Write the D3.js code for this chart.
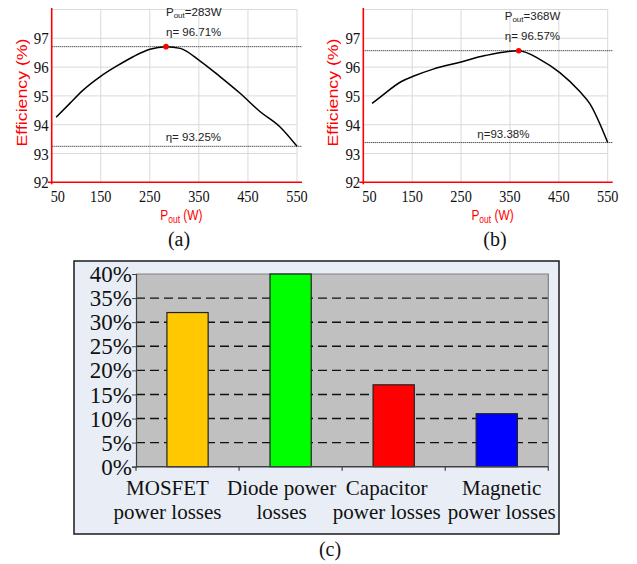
<!DOCTYPE html>
<html>
<head>
<meta charset="utf-8">
<script src="https://cdn.jsdelivr.net/npm/d3@7"></script>
<style>
  body { margin: 0; background: #fff; }
  svg { display: block; }
</style>
</head>
<body>
<svg id="fig" width="637" height="564"></svg>
<script>
// ---- Efficiency vs. output power, converter (a) ----
const powerA = [59, 87, 114, 149, 183, 216, 250, 283, 312, 352, 393, 434, 475, 515, 550];
const effA   = [94.26, 94.74, 95.20, 95.67, 96.04, 96.36, 96.62, 96.71, 96.65, 96.22, 95.67, 95.09, 94.45, 93.93, 93.25];
const peakPowerA = 283;
const peakEffA = 96.71;
const minEffA = 93.25;

// ---- Efficiency vs. output power, converter (b) ----
const powerB = [68, 84, 128, 152, 193, 248, 299, 368, 411, 452, 493, 513, 550];
const effB   = [94.74, 94.95, 95.50, 95.68, 95.93, 96.17, 96.40, 96.57, 96.27, 95.81, 95.15, 94.74, 93.38];
const peakPowerB = 368;
const peakEffB = 96.57;
const minEffB = 93.38;

const powerTicks = [50, 150, 250, 350, 450, 550];
const effTicks = [92, 93, 94, 95, 96, 97];
const effGridLines = [93, 94, 95, 96, 97, 98];

// ---- Power-loss breakdown (c) ----
const lossCategories = [
  ["MOSFET", "power losses"],
  ["Diode power", "losses"],
  ["Capacitor", "power losses"],
  ["Magnetic", "power losses"]
];
const lossShares = [32, 40, 17, 11];
const lossColors = ["#ffc800", "#00ff00", "#ff0000", "#0000ff"];
const shareTicks = [0, 5, 10, 15, 20, 25, 30, 35, 40];

const svg = d3.select("#fig");
const SANS = "'Liberation Sans', Arial, sans-serif";
const SERIF = "'Liberation Serif', 'Times New Roman', serif";

function efficiencyChart(opt) {
  const g = svg.append("g");
  const x = d3.scaleLinear().domain([50, 550]).range([opt.left, opt.right]);
  const y = d3.scaleLinear().domain([92, 98]).range([182.3, 9.5]);

  // light grid
  g.selectAll("line.vg").data(powerTicks.slice(1)).join("line")
    .attr("x1", d => x(d)).attr("x2", d => x(d))
    .attr("y1", y(98)).attr("y2", y(92))
    .attr("stroke", "#d9d9d9").attr("stroke-width", 1);
  g.selectAll("line.hg").data(effGridLines).join("line")
    .attr("x1", x(50)).attr("x2", x(550))
    .attr("y1", d => y(d)).attr("y2", d => y(d))
    .attr("stroke", "#d9d9d9").attr("stroke-width", 1);

  // dotted reference lines at peak and minimum efficiency
  [opt.peakEff, opt.minEff].forEach(v => {
    g.append("line")
      .attr("x1", x(50)).attr("x2", x(550) + 5)
      .attr("y1", y(v)).attr("y2", y(v))
      .attr("stroke", "#111").attr("stroke-width", 1)
      .attr("stroke-dasharray", "1,1");
  });

  // efficiency curve
  const pts = opt.power.map((p, i) => [p, opt.eff[i]]);
  g.append("path")
    .datum(pts)
    .attr("fill", "none").attr("stroke", "#000").attr("stroke-width", 1.5)
    .attr("d", d3.line().x(d => x(d[0])).y(d => y(d[1])).curve(d3.curveMonotoneX));

  // peak marker
  g.append("circle")
    .attr("cx", x(opt.peakPower)).attr("cy", y(opt.peakEff)).attr("r", 2.8)
    .attr("fill", "#ff0000");

  // red axes
  g.append("line")
    .attr("x1", x(50)).attr("x2", x(50)).attr("y1", 8).attr("y2", y(92) + 2)
    .attr("stroke", "#ff0000").attr("stroke-width", 1.6);
  g.append("line")
    .attr("x1", x(50) - 4).attr("x2", x(550) + 5).attr("y1", y(92)).attr("y2", y(92))
    .attr("stroke", "#ff0000").attr("stroke-width", 1.6);

  // tick labels (serif, slightly condensed)
  effTicks.forEach(v => {
    g.append("text")
      .attr("transform", `translate(${x(50) - 3},${y(v) + 6}) scale(0.85,1)`)
      .attr("text-anchor", "end")
      .attr("font-family", SERIF).attr("font-size", 17.5).attr("fill", "#111")
      .text(v);
  });
  powerTicks.forEach((v, i) => {
    g.append("text")
      .attr("transform", `translate(${i === 0 ? x(v) - 1 : x(v)},202) scale(0.84,1)`)
      .attr("text-anchor", i === 0 ? "start" : "middle")
      .attr("font-family", SERIF).attr("font-size", 17).attr("fill", "#111")
      .text(v);
  });

  // axis titles
  g.append("text")
    .attr("transform", `translate(${x(50) - 25},92.5) rotate(-90)`)
    .attr("text-anchor", "middle")
    .attr("font-family", SANS).attr("font-size", 14).attr("fill", "#ff0000")
    .attr("textLength", 108).attr("lengthAdjust", "spacingAndGlyphs")
    .text("Efficiency (%)");
  const xt = g.append("text")
    .attr("transform", `translate(${(x(50) + x(550)) / 2 + 7},219.5) scale(0.85,1)`)
    .attr("text-anchor", "middle")
    .attr("font-family", SANS).attr("font-size", 14).attr("fill", "#ff0000");
  xt.append("tspan").text("P");
  xt.append("tspan").attr("font-size", 10).attr("dy", 3).text("out");
  xt.append("tspan").attr("dy", -3).text(" (W)");

  // peak annotation
  const ax = x(opt.peakPower) + opt.labelDx;
  const pl = g.append("text")
    .attr("x", ax).attr("y", y(opt.peakEff) - 31)
    .attr("font-family", SANS).attr("font-size", 11.5).attr("fill", "#222");
  pl.append("tspan").text("P");
  pl.append("tspan").attr("font-size", 8).attr("dy", 2.5).text("out");
  pl.append("tspan").attr("dy", -2.5).text(`=${opt.peakPower}W`);
  g.append("text")
    .attr("x", ax).attr("y", y(opt.peakEff) - 11)
    .attr("font-family", SANS).attr("font-size", 11.5).attr("fill", "#222")
    .text(`η= ${opt.peakEff.toFixed(2)}%`);

  // minimum annotation
  g.append("text")
    .attr("x", x(50) + 114).attr("y", y(opt.minEff) - 5)
    .attr("font-family", SANS).attr("font-size", 11.5).attr("fill", "#222")
    .text(`η=${opt.minSep}${opt.minEff.toFixed(2)}%`);

  // panel tag
  svg.append("text")
    .attr("x", opt.tagX).attr("y", 246)
    .attr("text-anchor", "middle")
    .attr("font-family", SERIF).attr("font-size", 20).attr("fill", "#111")
    .text(opt.tag);
}

efficiencyChart({
  left: 51.7, right: 297, power: powerA, eff: effA,
  peakPower: peakPowerA, peakEff: peakEffA, minEff: minEffA,
  labelDx: 0, minSep: " ", tag: "(a)", tagX: 179
});
efficiencyChart({
  left: 363.3, right: 607.7, power: powerB, eff: effB,
  peakPower: peakPowerB, peakEff: peakEffB, minEff: minEffB,
  labelDx: -14, minSep: "", tag: "(b)", tagX: 495
});

// ---- bar chart (c) ----
const gc = svg.append("g");
gc.append("rect")
  .attr("x", 74).attr("y", 261).attr("width", 485).attr("height", 273)
  .attr("fill", "#e9eef6").attr("stroke", "#1a1a1a").attr("stroke-width", 1.5);

const xb = d3.scaleBand().domain(d3.range(lossShares.length))
  .range([136, 548.3]).paddingInner(0.6).paddingOuter(0.3);
const yb = d3.scaleLinear().domain([0, 40]).range([466.7, 274]);

gc.append("rect")
  .attr("x", 136).attr("y", yb(40))
  .attr("width", 548.3 - 136).attr("height", yb(0) - yb(40))
  .attr("fill", "#c0c0c0");

// dashed gridlines
gc.selectAll("line.grid").data(shareTicks.filter(v => v > 0 && v < 40)).join("line")
  .attr("x1", 136).attr("x2", 548.3)
  .attr("y1", d => yb(d)).attr("y2", d => yb(d))
  .attr("stroke", "#111").attr("stroke-width", 1.4)
  .attr("stroke-dasharray", "9,5");
// plot border top and right
gc.append("path")
  .attr("d", `M136,${yb(40)}H548.3V${yb(0)}`)
  .attr("fill", "none").attr("stroke", "#808080").attr("stroke-width", 1.2);

// bars
gc.selectAll("rect.bar").data(lossShares).join("rect")
  .attr("x", (d, i) => xb(i)).attr("width", xb.bandwidth())
  .attr("y", d => yb(d)).attr("height", d => yb(0) - yb(d))
  .attr("fill", (d, i) => lossColors[i])
  .attr("stroke", "#222").attr("stroke-width", 1.2);

// axes
const yAxis = d3.axisLeft(yb).tickValues(shareTicks).tickSize(4).tickFormat(d => d + "%");
const ya = gc.append("g").attr("transform", "translate(136,0)").call(yAxis);
ya.select(".domain").attr("stroke", "#404040").attr("stroke-width", 1.2);
ya.selectAll(".tick line").attr("stroke", "#404040");
ya.selectAll(".tick text")
  .attr("font-family", SERIF).attr("font-size", 23).attr("fill", "#111")
  .attr("x", -4).attr("dy", "0.33em");

const step = xb.step();
const boundaries = d3.range(lossShares.length + 1).map(i => 136 + i * step);
gc.append("line")
  .attr("x1", 136).attr("x2", 548.3).attr("y1", yb(0)).attr("y2", yb(0))
  .attr("stroke", "#404040").attr("stroke-width", 1.4);
gc.selectAll("line.ctick").data(boundaries).join("line")
  .attr("x1", d => d).attr("x2", d => d)
  .attr("y1", yb(0)).attr("y2", yb(0) + 4)
  .attr("stroke", "#404040").attr("stroke-width", 1.2);

// category labels, nudged apart so the wrapped lines do not collide
const labelNudge = [-20, -9, -7, 5];
lossCategories.forEach((lines, i) => {
  const cx = xb(i) + xb.bandwidth() / 2 + labelNudge[i];
  lines.forEach((t, j) => {
    gc.append("text")
      .attr("x", cx).attr("y", 495 + j * 23.5)
      .attr("text-anchor", "middle")
      .attr("font-family", SERIF).attr("font-size", 21).attr("fill", "#111")
      .text(t);
  });
});

svg.append("text")
  .attr("x", 330).attr("y", 556)
  .attr("text-anchor", "middle")
  .attr("font-family", SERIF).attr("font-size", 20).attr("fill", "#111")
  .text("(c)");
</script>
</body>
</html>
